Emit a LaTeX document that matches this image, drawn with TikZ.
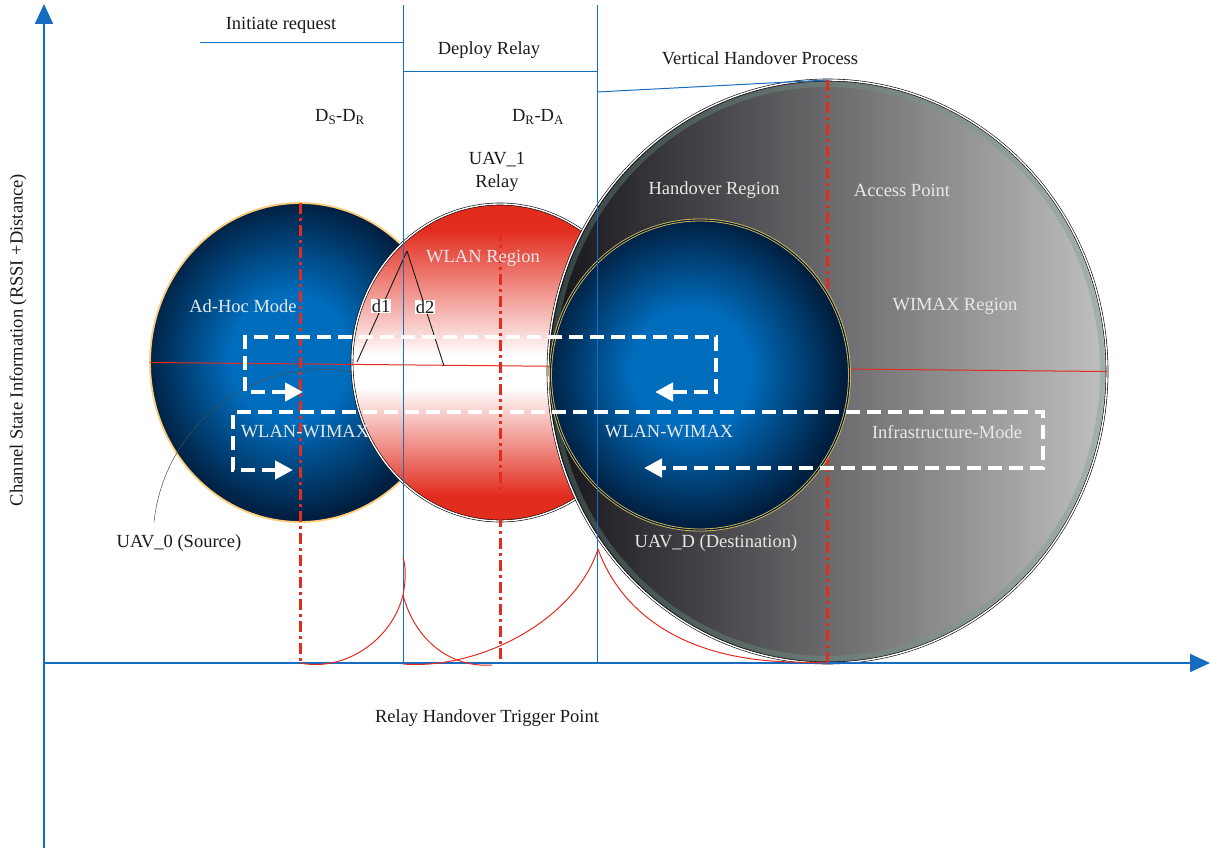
\documentclass[tikz,border=0pt]{standalone}
\usepackage{fontspec}
\setmainfont{Liberation Serif}
\usetikzlibrary{arrows.meta,calc,positioning,shapes.geometric}
\definecolor{hoink}{HTML}{1A1A1A}
\definecolor{hoaxis}{RGB}{22,108,192}
\definecolor{hored}{RGB}{226,44,30}
\definecolor{hodisc}{RGB}{0,108,188}
\definecolor{hodeep}{RGB}{0,30,62}
\definecolor{hoamber}{RGB}{252,204,120}
\definecolor{hogold}{RGB}{232,196,86}
\definecolor{hosteel}{RGB}{20,20,26}
\definecolor{hosilver}{RGB}{192,192,192}
\definecolor{hoteal}{RGB}{112,152,140}
\definecolor{homist}{RGB}{232,232,232}
\pgfdeclareradialshading{ho disc}{\pgfpoint{-2bp}{1bp}}{color(0bp)=(hodisc); color(10bp)=(hodisc); color(25bp)=(hodeep); color(50bp)=(hodeep)}
\pgfdeclareverticalshading{ho band}{100bp}{color(0bp)=(hored); color(29bp)=(hored); color(46bp)=(white); color(51bp)=(white); color(71bp)=(hored); color(100bp)=(hored)}
\tikzset{
  ho text/.style={font=\fontsize{18.5}{23}\selectfont, text=hoink},
  ho light/.style={ho text, text=homist},
  ho tag/.style={ho text, fill=white, inner sep=0.6pt},
  ho axis/.style={draw=hoaxis, line width=1.8pt, -{Triangle[length=20pt,width=18pt]}},
  ho guide/.style={draw=hoaxis, line width=1pt},
  ho centre/.style={draw=hored, line width=3pt, dash pattern=on 11pt off 4pt on 3pt off 4pt},
  ho trace/.style={draw=hored, line width=1pt},
  ho leg/.style={draw=hoink, line width=0.9pt},
  ho flow/.style={draw=white, line width=4.5pt, dash pattern=on 14pt off 7pt,
    {Triangle[length=18pt,width=18pt]}-{Triangle[length=18pt,width=18pt]}},
  ho cell/.style={ellipse, inner sep=0pt, outer sep=0pt},
  ho blue cell/.style={ho cell, shade, shading=ho disc},
  ho rim/.style={draw=black, line width=0.6pt, double=white, double distance=1.4pt}
}

\begin{document}
\begin{tikzpicture}[ho text, x=1pt, y=-1pt]
  \useasboundingbox (0,0) rectangle (1210,848);
  % cells
  \node[ho blue cell, draw=hoamber, line width=1.8pt,
    minimum width=300pt, minimum height=319pt] (src) at (300,362.5) {};
  \draw[draw=black!70, line width=0.5pt] (154,522) .. controls (165,420) and (260,355) .. (353,372);
  \node[ho cell, ho rim, shade, shading=ho band,
    minimum width=296pt, minimum height=317pt] (relay) at (500,362.5) {};
  \node[ho cell, ho rim, left color=hosteel, right color=hosilver,
    minimum width=559pt, minimum height=583pt] (ap) at (827.5,371.5) {};
  \node[ho cell, draw=hoteal, line width=5pt, draw opacity=.35,
    minimum width=550pt, minimum height=574pt] (apfringe) at (ap) {};
  % centre lines
  \draw[ho centre] (src.north) -- (src.north |- 0,663);
  \draw[ho centre] (relay.north |- 0,230) -- (relay.north |- 0,663);
  \draw[ho centre] (ap.north) -- (ap.south);
  \draw[draw=hored, line width=1pt] (src.west) -- (ap.east);
  \node[ho blue cell, draw=hogold, line width=0.8pt, double=hodeep, double distance=1.2pt,
    minimum width=299pt, minimum height=310pt] (dst) at (700,375) {};
  % distances inside the relay cell
  \coordinate (apex) at (407,251);
  \coordinate (d1end) at (357,362);
  \coordinate (d2end) at (444,366);
  \draw[ho leg] (apex) -- (d1end);
  \draw[ho leg] (apex) -- (d2end);
  \node[ho tag] (d1) at (381,306) {d1};
  \node[ho tag] (d2) at (425,307) {d2};
  % axes and phase guides
  \coordinate (origin) at (44,663);
  \coordinate (ytop) at (44,4);
  \coordinate (ybot) at (44,848);
  \coordinate (xend) at (1210,663);
  \coordinate (g1top) at (403,5);
  \coordinate (g2top) at (597,5);
  \draw[ho guide] (g1top) -- (g1top |- origin);
  \draw[ho guide] (g2top) -- (g2top |- origin);
  \draw[ho guide] (200,43) -- (g1top |- 0,43);
  \draw[ho guide] (g1top |- 0,72) -- (g2top |- 0,72);
  \draw[ho guide] (g2top |- 0,92) -- (ap.north);
  \draw[ho axis] (ybot) -- (ytop);
  \draw[ho axis] (origin) -- (xend);
  % handover flows
  \coordinate (upl) at (303,392);
  \coordinate (upr) at (655,392);
  \coordinate (ul) at (245,337);
  \coordinate (ur) at (716,337);
  \draw[ho flow] (upl) -| (ul) -- (ur) |- (upr);
  \coordinate (lol) at (293,470);
  \coordinate (lor) at (644,468);
  \coordinate (ll) at (233,412);
  \coordinate (lr) at (1043,412);
  \draw[ho flow] (lol) -| (ll) -- (lr) |- (lor);
  % signal traces
  \coordinate (foot0) at (300,663);
  \coordinate (cuspa) at (403,595);
  \coordinate (cuspatip) at (403,558);
  \coordinate (dipa) at (403,664);
  \coordinate (foota) at (492,665);
  \coordinate (cuspb) at (598,549);
  \coordinate (footb) at (793,662);
  \draw[ho trace] (foot0) .. controls (345,672) and (392,640) .. (cuspa);
  \draw[ho trace] (cuspa) .. controls (406,580) and (406,566) .. (cuspatip);
  \draw[ho trace] (cuspa) .. controls (415,640) and (450,668) .. (foota);
  \draw[ho trace] (dipa) .. controls (480,670) and (575,620) .. (cuspb);
  \draw[ho trace] (cuspb) .. controls (620,610) and (680,660) .. (footb) -- (ap.south);
  % labels
  \node[ho text] (reqlbl) at (281,25) {Initiate request};
  \node[ho text] (deplbl) at (489,50) {Deploy Relay};
  \node[ho text] (vholbl) at (760,58) {Vertical Handover Process};
  \node[ho text] (dsdr) at (340,117) {D\textsubscript{S}-D\textsubscript{R}};
  \node[ho text] (drda) at (538,117) {D\textsubscript{R}-D\textsubscript{A}};
  \node[ho text, align=center] (uav1) at (497,172) {UAV\_1\\Relay};
  \node[ho light] (adhoc) at (243,306) {Ad-Hoc Mode};
  \node[ho light] (wlanreg) at (483,258) {WLAN Region};
  \node[ho light] (horeg) at (714,190) {Handover Region};
  \node[ho light] (access) at (902,190) {Access Point};
  \node[ho light] (wimaxreg) at (955,306) {WIMAX Region};
  \node[ho light] (mixa) at (305,432) {WLAN-WIMAX};
  \node[ho light] (mixb) at (669,432) {WLAN-WIMAX};
  \node[ho light] (infra) at (947,432) {Infrastructure-Mode};
  \node[ho text] (uav0) at (179,543) {UAV\_0 (Source)};
  \node[ho light] (uavd) at (716,543) {UAV\_D (Destination)};
  \node[ho text, rotate=90] (ylbl) at (18,340) {Channel State Information (RSSI +Distance)};
  \node[ho text] (xlbl) at (487,718) {Relay Handover Trigger Point};
\end{tikzpicture}
\end{document}
